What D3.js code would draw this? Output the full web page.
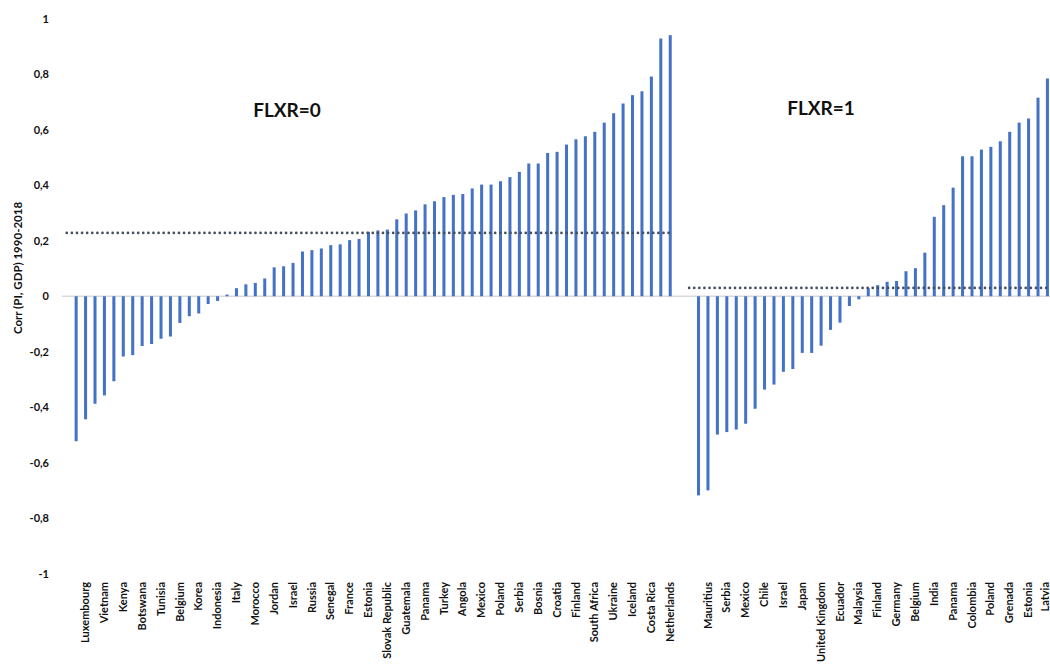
<!DOCTYPE html>
<html>
<head>
<meta charset="utf-8">
<script src="https://cdn.jsdelivr.net/npm/d3@7"></script>
<style>
  html, body { margin: 0; padding: 0; background: #fff; }
  svg { display: block; }
  text { font-family: Lato, "Open Sans", "Liberation Sans", sans-serif; font-weight: bold; fill: #111; }
</style>
</head>
<body>
<svg id="chart" width="1050" height="664"></svg>
<script>
// ---- Data ----
// Group FLXR=0: 64 bars, every second bar is labelled
const group1Labels = ["Luxembourg","Vietnam","Kenya","Botswana","Tunisia","Belgium","Korea","Indonesia",
  "Italy","Morocco","Jordan","Israel","Russia","Senegal","France","Estonia","Slovak Republic","Guatemala",
  "Panama","Turkey","Angola","Mexico","Poland","Serbia","Bosnia","Croatia","Finland","South Africa",
  "Ukraine","Iceland","Costa Rica","Netherlands"];
const group1Values = [-0.522,-0.443,-0.387,-0.357,-0.306,-0.217,-0.212,-0.179,-0.172,-0.153,-0.145,-0.096,
  -0.072,-0.062,-0.028,-0.017,0.006,0.029,0.043,0.048,0.064,0.104,0.108,0.120,0.161,0.166,0.172,0.184,
  0.187,0.202,0.206,0.232,0.237,0.240,0.277,0.298,0.309,0.331,0.342,0.357,0.365,0.368,0.388,0.402,0.402,
  0.414,0.429,0.448,0.478,0.478,0.516,0.520,0.546,0.565,0.576,0.592,0.625,0.659,0.694,0.724,0.738,0.791,
  0.928,0.940];
const group1Mean = 0.228;

// Group FLXR=1: 38 bars, every second bar is labelled
const group2Labels = ["Mauritius","Serbia","Mexico","Chile","Israel","Japan","United Kingdom","Ecuador",
  "Malaysia","Finland","Germany","Belgium","India","Panama","Colombia","Poland","Grenada","Estonia","Latvia"];
const group2Values = [-0.717,-0.699,-0.498,-0.489,-0.480,-0.459,-0.405,-0.336,-0.318,-0.272,-0.262,-0.204,
  -0.204,-0.178,-0.121,-0.095,-0.035,-0.011,0.029,0.040,0.052,0.055,0.090,0.101,0.157,0.286,0.328,0.391,
  0.504,0.504,0.528,0.538,0.558,0.592,0.625,0.640,0.715,0.784];
const group2Mean = 0.030;

const groupTitles = ["FLXR=0", "FLXR=1"];
const yTicks = [-1,-0.8,-0.6,-0.4,-0.2,0,0.2,0.4,0.6,0.8,1];
const yTitle = "Corr (PI, GDP) 1990-2018";

// ---- Build the category table: blank, group 1, two blanks, group 2 ----
const cats = [];
cats.push({ label: "", value: null, group: 0 });
group1Values.forEach((v, i) => cats.push({ label: (i % 2 === 1) ? group1Labels[(i - 1) / 2] : "", value: v, group: 1 }));
cats.push({ label: "", value: null, group: 0 });
cats.push({ label: "", value: null, group: 0 });
group2Values.forEach((v, i) => cats.push({ label: (i % 2 === 1) ? group2Labels[(i - 1) / 2] : "", value: v, group: 2 }));
cats.forEach((c, i) => c.idx = i);

const svg = d3.select("#chart");
const pInner = 0.68;
const x = d3.scaleBand()
  .domain(cats.map(c => c.idx))
  .range([62, 62 + cats.length * 9.43])
  .paddingInner(pInner)
  .paddingOuter(pInner / 2);
const y = d3.scaleLinear().domain([-1, 1]).range([574, 18.5]);
const cx = i => x(i) + x.bandwidth() / 2;

// zero line
svg.append("line")
  .attr("x1", 62).attr("x2", 1050)
  .attr("y1", y(0)).attr("y2", y(0))
  .attr("stroke", "#d9d9d9").attr("stroke-width", 1.5);

// bars
svg.append("g").selectAll("rect")
  .data(cats.filter(c => c.value !== null))
  .join("rect")
  .attr("x", c => x(c.idx))
  .attr("width", x.bandwidth())
  .attr("y", c => y(Math.max(0, c.value)))
  .attr("height", c => Math.abs(y(c.value) - y(0)))
  .attr("fill", "#4472c4");

// mean lines (dotted)
const line = d3.line().x(d => cx(d.idx)).y(d => y(d.v));
const mean1 = cats.slice(0, 65).map(c => ({ idx: c.idx, v: group1Mean }));
const mean2 = cats.slice(66).map(c => ({ idx: c.idx, v: group2Mean }));
[mean1, mean2].forEach(m => {
  svg.append("path")
    .attr("d", line(m))
    .attr("fill", "none")
    .attr("stroke", "#444f60")
    .attr("stroke-width", 2.6)
    .attr("stroke-linecap", "round")
    .attr("stroke-dasharray", "0.1,5");
});

// y axis (labels only)
const yAxis = d3.axisLeft(y)
  .tickValues(yTicks)
  .tickSize(0)
  .tickPadding(0)
  .tickFormat(d => String(+d.toFixed(1)).replace(".", ","));
const gy = svg.append("g").attr("transform", "translate(49,0)").call(yAxis);
gy.select(".domain").remove();
gy.selectAll("text")
  .attr("font-size", 11)
  .attr("font-family", "Lato, 'Open Sans', sans-serif")
  .attr("font-weight", "bold")
  .attr("fill", "#111");

// y title
svg.append("text")
  .attr("transform", "translate(22,268) rotate(-90)")
  .attr("text-anchor", "middle")
  .attr("font-size", 11.5)
  .text(yTitle);

// x axis labels
const xAxis = d3.axisBottom(x)
  .tickSize(0)
  .tickPadding(0)
  .tickFormat(i => cats[i].label);
const gx = svg.append("g").attr("transform", "translate(0,580)").call(xAxis);
gx.select(".domain").remove();
gx.selectAll("text")
  .attr("font-size", 11)
  .attr("font-family", "Lato, 'Open Sans', sans-serif")
  .attr("font-weight", "bold")
  .attr("fill", "#111")
  .attr("transform", "rotate(-90)")
  .attr("text-anchor", "end")
  .attr("dy", (d, i) => i === cats.length - 1 ? "0.12em" : "0.33em")
  .attr("x", -2)
  .attr("y", 0);

// group titles
svg.append("text").attr("x", 287).attr("y", 117).attr("text-anchor", "middle")
  .attr("font-size", 19).attr("fill", "#111").text(groupTitles[0]);
svg.append("text").attr("x", 821).attr("y", 114.5).attr("text-anchor", "middle")
  .attr("font-size", 19).attr("fill", "#111").text(groupTitles[1]);
</script>
</body>
</html>
